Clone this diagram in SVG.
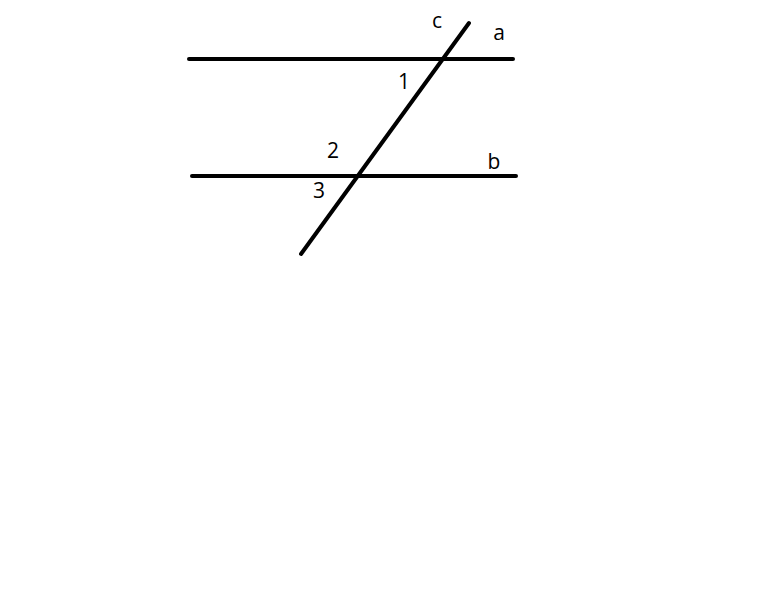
<svg xmlns="http://www.w3.org/2000/svg" width="768" height="614" viewBox="0 0 768 614">
<style>
.ln{stroke:#000;stroke-width:4;stroke-linecap:round;fill:none}
text{font-family:"Open Sans","DejaVu Sans",sans-serif;font-size:21px;fill:#000;text-anchor:middle}
</style>
<rect width="768" height="614" fill="#fff"/>
<g id="connectors">
<line id="line-a" class="ln" x1="189" y1="59" x2="513" y2="59"/>
<line id="line-b" class="ln" x1="192" y1="176" x2="516" y2="176"/>
<line id="line-c" class="ln" x1="469" y1="23" x2="301" y2="254"/>
</g>
<g id="labels">
<text x="437" y="28">c</text>
<text x="499" y="40">a</text>
<text x="404" y="89">1</text>
<text x="333" y="158">2</text>
<text x="494" y="169">b</text>
<text x="319" y="198">3</text>
</g>
</svg>
